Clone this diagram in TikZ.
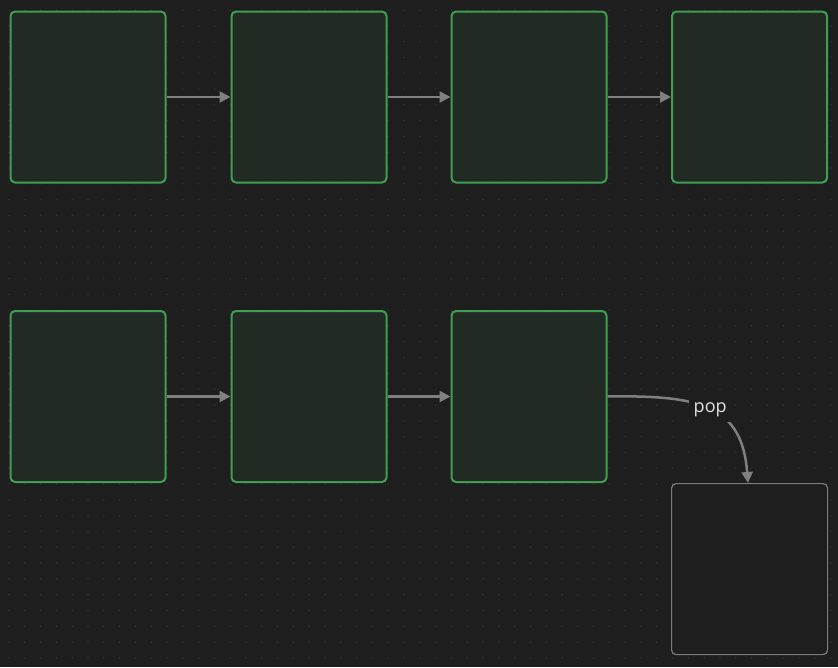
\documentclass[tikz,border=0pt]{standalone}
\usepackage{fontspec}
\setmainfont{Open Sans}
\usetikzlibrary{arrows.meta}
\definecolor{bg}{HTML}{1E1E1E}
\definecolor{gdot}{HTML}{303030}
\definecolor{gfill}{HTML}{222A24}
\definecolor{gline}{HTML}{3F9E52}
\definecolor{egray}{HTML}{808080}
\definecolor{txt}{HTML}{E0E0E0}
\definecolor{emptyline}{HTML}{7A7A7A}
\tikzset{
  cell/.style={draw=gline, line width=2pt, fill=gfill, rounded corners=4.5pt,
    minimum width=155pt, minimum height=171pt, inner sep=0pt, anchor=north west},
  emptycell/.style={draw=emptyline, line width=1.2pt, fill=bg, rounded corners=4.5pt,
    minimum width=156pt, minimum height=171pt, inner sep=0pt, anchor=north west},
  link/.style={draw=egray, line width=2.5pt, -{Triangle[length=11pt,width=11pt]}},
  lbl/.style={fill=bg, text=txt, font=\fontsize{18pt}{21pt}\selectfont, inner sep=5pt}
}
\begin{document}
\begin{tikzpicture}[x=1pt,y=-1pt]
\fill[bg] (0,0) rectangle (838,667);
\useasboundingbox (0,0) rectangle (838,667);
\foreach \i in {0,...,52}{
  \foreach \j in {0,...,41}{
    \fill[gdot] (9+15.8*\i,10+15.8*\j) circle (0.9pt);
  }
}
\node[cell] (a1) at (9.5,10.5) {};
\node[cell] (a2) at (230.5,10.5) {};
\node[cell] (a3) at (450.5,10.5) {};
\node[cell] (a4) at (671,10.5) {};
\node[cell] (b1) at (9.5,310) {};
\node[cell] (b2) at (230.5,310) {};
\node[cell] (b3) at (450.5,310) {};
\node[emptycell] (c) at (671,483) {};
\draw[link] (a1) -- (a2);
\draw[link] (a2) -- (a3);
\draw[link] (a3) -- (a4);
\draw[link] (b1) -- (b2);
\draw[link] (b2) -- (b3);
\draw[link] (b3.east) .. controls (700,395) and (742,405) .. (c.north -| 748,0)
  node[lbl, pos=0.5] {pop};
\end{tikzpicture}
\end{document}
